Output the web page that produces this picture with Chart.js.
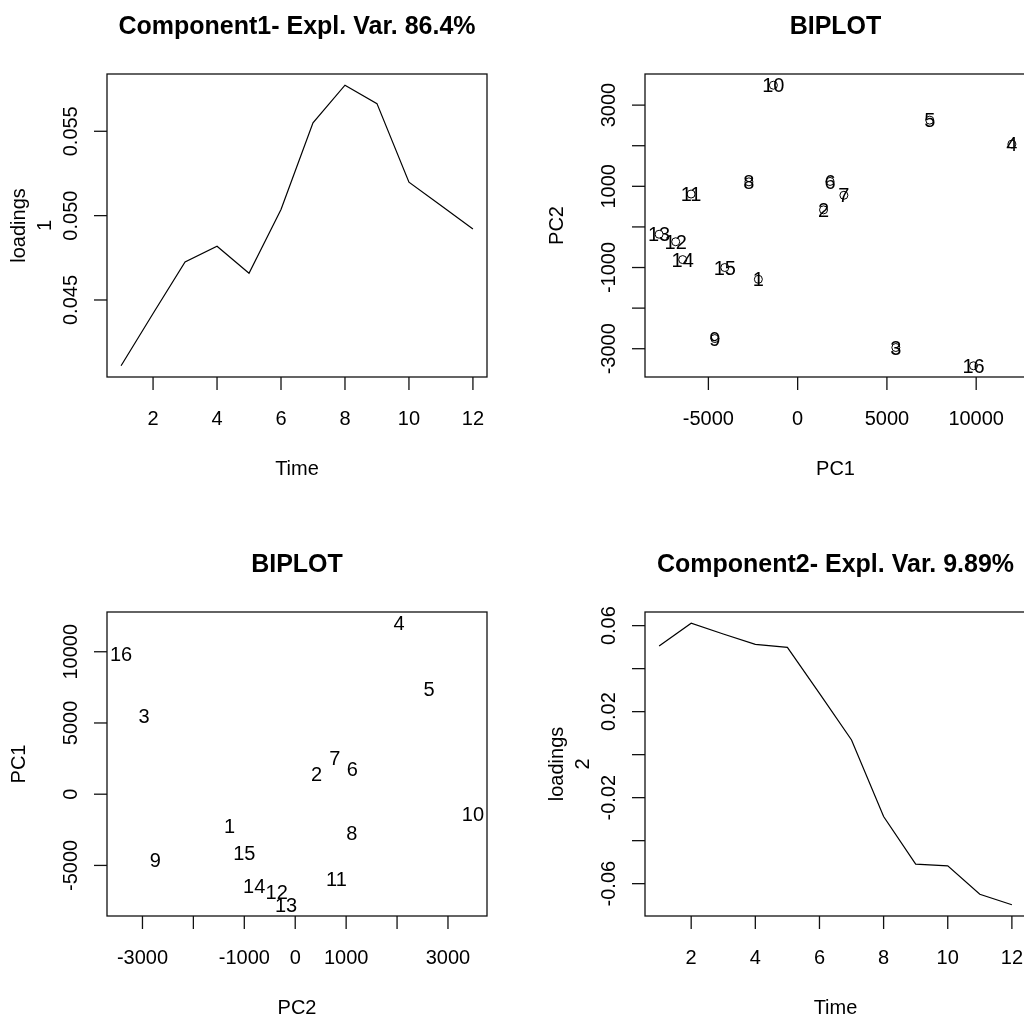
<!DOCTYPE html>
<html>
<head>
<meta charset="utf-8">
<script src="https://cdn.jsdelivr.net/npm/chart.js@4.4.0/dist/chart.umd.min.js"></script>
<style>
  html, body { margin: 0; padding: 0; background: #fff; overflow: hidden; }
  body { width: 1024px; height: 1016px; position: relative; }
  canvas { position: absolute; }
</style>
</head>
<body>
<canvas id="c1" width="512" height="508" style="left:0;top:0"></canvas>
<canvas id="c2" width="520" height="508" style="left:512px;top:0"></canvas>
<canvas id="c3" width="512" height="508" style="left:0;top:508px"></canvas>
<canvas id="c4" width="520" height="508" style="left:512px;top:508px"></canvas>
<script>
// loadings over time
const time = [1, 2, 3, 4, 5, 6, 7, 8, 9, 10, 11, 12];
const loadings1 = [0.0411, 0.0442, 0.04725, 0.04818, 0.04658, 0.05036, 0.0555, 0.05773, 0.05664, 0.05198, 0.0506, 0.04921];
const loadings2 = [0.0505, 0.0611, 0.0561, 0.0513, 0.0499, 0.0285, 0.0068, -0.0288, -0.0509, -0.0517, -0.0649, -0.0698];

// scores
const obsLabels = ['1', '2', '3', '4', '5', '6', '7', '8', '9', '10', '11', '12', '13', '14', '15', '16'];
const pc1 = [-2200, 1450, 5500, 12000, 7400, 1815, 2590, -2730, -4640, -1360, -5970, -6830, -7760, -6440, -4080, 9850];
const pc2 = [-1290, 420, -2970, 2040, 2630, 1120, 780, 1110, -2750, 3490, 810, -365, -180, -805, -1000, -3420];

// ticks (labels: null = tick without text)
const timeTicks = [2, 4, 6, 8, 10, 12];
const load1Ticks = [0.045, 0.050, 0.055];
const load1TickLabels = ['0.045', '0.050', '0.055'];
const load2Ticks = [-0.06, -0.04, -0.02, 0, 0.02, 0.04, 0.06];
const load2TickLabels = ['-0.06', null, '-0.02', null, '0.02', null, '0.06'];
const pc1Ticks = [-5000, 0, 5000, 10000];
const pc1TickLabels = ['-5000', '0', '5000', '10000'];
const pc2Ticks = [-3000, -2000, -1000, 0, 1000, 2000, 3000];
const pc2TickLabelsY = ['-3000', null, '-1000', null, '1000', null, '3000'];
const pc2TickLabelsX = ['-3000', null, '-1000', '0', '1000', null, '3000'];

const FONT = '"Liberation Sans", Arial, sans-serif';
const CAP = 7.2; // half cap height of 20px text

// R style axis range, 4% extension
function rRange(arr) {
    const lo = Math.min(...arr), hi = Math.max(...arr);
    const pad = (hi - lo) * 0.04;
    return { min: lo - pad, max: hi + pad };
}

function vText(ctx, txt, x, y) {
    ctx.save();
    ctx.translate(x, y);
    ctx.rotate(-Math.PI / 2);
    ctx.fillText(txt, 0, CAP);
    ctx.restore();
}

const rAxes = {
    id: 'rAxes',
    afterDatasetsDraw(chart, args, opts) {
        const ctx = chart.ctx;
        const a = chart.chartArea;
        const xs = chart.scales.x, ys = chart.scales.y;
        ctx.save();
        ctx.strokeStyle = '#111';
        ctx.fillStyle = '#000';
        ctx.lineWidth = 1.3;
        ctx.strokeRect(a.left, a.top, a.right - a.left, a.bottom - a.top);

        ctx.font = '20px ' + FONT;
        ctx.textAlign = 'center';
        ctx.textBaseline = 'alphabetic';

        opts.xTicks.forEach((v, i) => {
            const px = xs.getPixelForValue(v);
            ctx.beginPath();
            ctx.moveTo(px, a.bottom);
            ctx.lineTo(px, a.bottom + 13);
            ctx.stroke();
            const lab = opts.xLabels ? opts.xLabels[i] : String(v);
            if (lab !== null) ctx.fillText(lab, px, a.bottom + 41 + CAP);
        });
        opts.yTicks.forEach((v, i) => {
            const py = ys.getPixelForValue(v);
            ctx.beginPath();
            ctx.moveTo(a.left, py);
            ctx.lineTo(a.left - 13, py);
            ctx.stroke();
            const lab = opts.yLabels[i];
            if (lab !== null) vText(ctx, lab, a.left - 37, py);
        });

        const cx = (a.left + a.right) / 2;
        const cy = (a.top + a.bottom) / 2;
        ctx.fillText(opts.xTitle, cx, a.bottom + 91 + CAP);
        opts.yTitle.forEach((t, i) => {
            vText(ctx, t, a.left - 89 + i * 26, cy);
        });

        ctx.font = 'bold 25px ' + FONT;
        ctx.fillText(opts.title, cx, a.top - 49 + 9);

        // point labels
        if (opts.pointText) {
            ctx.font = '20px ' + FONT;
            const meta = chart.getDatasetMeta(0);
            meta.data.forEach((pt, i) => {
                ctx.fillText(opts.pointText[i], pt.x, pt.y + CAP);
            });
        }
        ctx.restore();
    }
};

function lineChart(id, values, pad, axes) {
    const xr = rRange(time), yr = rRange(values);
    return new Chart(document.getElementById(id), {
        type: 'scatter',
        data: {
            datasets: [{
                data: time.map((t, i) => ({ x: t, y: values[i] })),
                showLine: true,
                borderColor: '#000',
                borderWidth: 1.2,
                pointRadius: 0,
                fill: false
            }]
        },
        options: {
            responsive: false,
            animation: false,
            layout: { padding: pad },
            scales: {
                x: { type: 'linear', display: false, min: xr.min, max: xr.max },
                y: { type: 'linear', display: false, min: yr.min, max: yr.max }
            },
            plugins: { legend: { display: false }, tooltip: { enabled: false }, rAxes: axes }
        },
        plugins: [rAxes]
    });
}

function biplot(id, xv, yv, circles, pad, axes) {
    const xr = rRange(xv), yr = rRange(yv);
    return new Chart(document.getElementById(id), {
        type: 'scatter',
        data: {
            datasets: [{
                data: xv.map((v, i) => ({ x: v, y: yv[i] })),
                pointRadius: circles ? 4 : 0,
                pointBorderWidth: 1,
                pointBorderColor: '#000',
                pointBackgroundColor: 'rgba(0,0,0,0)'
            }]
        },
        options: {
            responsive: false,
            animation: false,
            layout: { padding: pad },
            scales: {
                x: { type: 'linear', display: false, min: xr.min, max: xr.max },
                y: { type: 'linear', display: false, min: yr.min, max: yr.max }
            },
            plugins: { legend: { display: false }, tooltip: { enabled: false }, rAxes: axes }
        },
        plugins: [rAxes]
    });
}

lineChart('c1', loadings1, { left: 107, right: 25, top: 74, bottom: 131 }, {
    title: 'Component1- Expl. Var. 86.4%',
    xTitle: 'Time', yTitle: ['loadings', '1'],
    xTicks: timeTicks, yTicks: load1Ticks, yLabels: load1TickLabels
});

biplot('c2', pc1, pc2, true, { left: 133, right: 6, top: 74, bottom: 131 }, {
    title: 'BIPLOT',
    xTitle: 'PC1', yTitle: ['PC2'],
    xTicks: pc1Ticks, xLabels: pc1TickLabels,
    yTicks: pc2Ticks, yLabels: pc2TickLabelsY,
    pointText: obsLabels
});

biplot('c3', pc2, pc1, false, { left: 107, right: 25, top: 104, bottom: 100 }, {
    title: 'BIPLOT',
    xTitle: 'PC2', yTitle: ['PC1'],
    xTicks: pc2Ticks, xLabels: pc2TickLabelsX,
    yTicks: pc1Ticks, yLabels: pc1TickLabels,
    pointText: obsLabels
});

lineChart('c4', loadings2, { left: 133, right: 6, top: 104, bottom: 100 }, {
    title: 'Component2- Expl. Var. 9.89%',
    xTitle: 'Time', yTitle: ['loadings', '2'],
    xTicks: timeTicks, yTicks: load2Ticks, yLabels: load2TickLabels
});
</script>
</body>
</html>
